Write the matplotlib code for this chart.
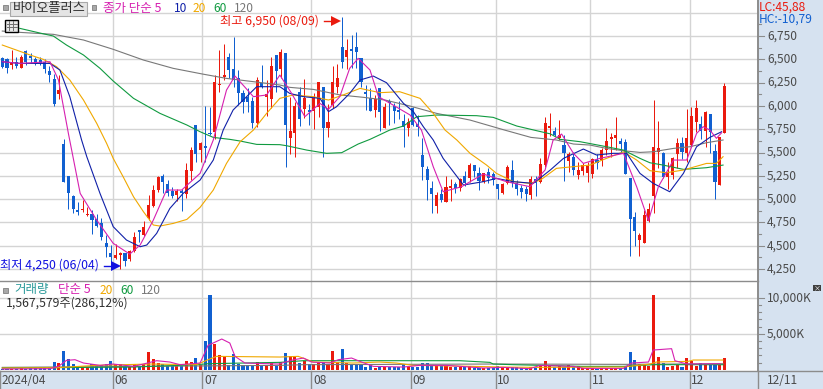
import matplotlib
matplotlib.use("Agg")
import matplotlib.pyplot as plt
from matplotlib.patches import Rectangle

plt.rcParams["font.family"] = ["Noto Sans CJK KR", "DejaVu Sans"]

W, H = 823, 389
STEP = 4.72
X0 = 2.3

opens = [6510, 6499, 6438, 6474, 6410, 6589, 6535, 6499, 6492, 6467, 6374, 6288, 6127,
         5591, 5247, 5033, 4883, 4883, 4825, 4840, 4786, 4747, 4525, 4421, 4367, 4403,
         4417, 4353, 4446, 4668, 4614, 4793, 4925, 5097, 5247, 5158, 5090, 5043, 5083,
         5054, 5305, 5795, 5526, 5569, 5709, 5723, 6224, 6306, 6521, 6396, 6295, 6142,
         6099, 6056, 5820, 6242, 6099, 6074, 6546, 6392, 6571, 5655, 5712, 6152, 5970,
         5956, 5948, 5984, 6199, 5759, 6009, 6199, 6632, 6521, 6607, 6628, 6510, 6149,
         6081, 5956, 6192, 5766, 6052, 5998, 5956, 5838, 5766, 5973, 5802, 5473, 5319,
         5115, 4925, 5054, 4968, 5119, 5162, 5115, 5247, 5222, 5365, 5276, 5187, 5287,
         5265, 5158, 5061, 5169, 5312, 5176, 5119, 5104, 5043, 5212, 5179, 5365, 5766,
         5730, 5652, 5580, 5412, 5455, 5258, 5305, 5283, 5265, 5419, 5419, 5526, 5644,
         5655, 5623, 5616, 5229, 4804, 4561, 4532, 4768, 5036, 5508, 5498, 5240, 5258,
         5483, 5598, 5498, 5580, 5830, 5805, 5734, 5913, 5516, 5151, 5712]
highs = [6521, 6510, 6599, 6528, 6546, 6599, 6564, 6528, 6528, 6499, 6428, 6342, 6331,
         5641, 5247, 5043, 4972, 4990, 4911, 4883, 4836, 4793, 4614, 4507, 4518, 4435,
         4425, 4453, 4650, 4668, 4768, 5043, 5151, 5247, 5269, 5204, 5133, 5104, 5104,
         5383, 5562, 5795, 5616, 5998, 5984, 6331, 6599, 6664, 6564, 6735, 6385, 6170,
         6188, 6099, 6306, 6438, 6278, 6521, 6546, 6607, 6571, 6099, 6045, 6206, 6285,
         6020, 6134, 6256, 6199, 6020, 6428, 6449, 6950, 6714, 6760, 6789, 6510, 6224,
         6188, 6117, 6192, 6027, 6070, 6027, 6052, 5913, 5866, 5984, 5902, 5652, 5355,
         5194, 5076, 5104, 5247, 5212, 5187, 5229, 5305, 5383, 5365, 5348, 5283, 5330,
         5294, 5158, 5169, 5365, 5419, 5204, 5151, 5140, 5247, 5247, 5437, 5884, 5920,
         5777, 5848, 5687, 5508, 5508, 5401, 5390, 5401, 5437, 5483, 5544, 5762, 5705,
         5877, 5652, 5641, 5229, 4865, 4632, 4883, 4954, 6063, 5838, 5508, 5401, 5448,
         5652, 5669, 5963, 5984, 6063, 5891, 5945, 5913, 5591, 5670, 6242]
lows = [6403, 6356, 6392, 6403, 6403, 6438, 6456, 6438, 6438, 6356, 6260, 5998, 6070,
        5187, 4890, 4854, 4829, 4861, 4818, 4625, 4704, 4561, 4382, 4282, 4360, 4250,
        4282, 4332, 4435, 4543, 4603, 4775, 4911, 5079, 5068, 5033, 5008, 4983, 4875,
        5008, 5204, 5401, 5401, 5401, 5690, 5640, 6152, 6278, 6295, 6199, 6009, 5920,
        5938, 5759, 5777, 6188, 5891, 5973, 6152, 6295, 5340, 5483, 5455, 5784, 5866,
        5795, 5748, 5884, 5455, 5669, 5973, 6134, 6403, 6392, 6403, 6403, 6206, 5956,
        5948, 5884, 5734, 5759, 5795, 5813, 5855, 5555, 5677, 5784, 5677, 5204, 4990,
        4854, 4847, 4968, 4968, 4983, 5061, 5090, 5140, 5187, 5240, 5097, 5169, 5169,
        5151, 5004, 5054, 5158, 5126, 5043, 5015, 4983, 5000, 5033, 5169, 5340, 5677,
        5677, 5630, 5197, 5294, 5258, 5215, 5258, 5187, 5222, 5319, 5358, 5473, 5455,
        5526, 5490, 5269, 4389, 4496, 4389, 4525, 4757, 4847, 5330, 5222, 5104, 5215,
        5330, 5426, 5401, 5570, 5723, 5640, 5555, 5490, 4997, 5151, 5712]
closes = [6421, 6403, 6456, 6431, 6528, 6474, 6510, 6449, 6456, 6396, 6331, 6020, 6170,
          5187, 5068, 4890, 4865, 4897, 4840, 4775, 4711, 4589, 4482, 4375, 4396, 4417,
          4335, 4443, 4589, 4646, 4700, 4936, 5097, 5233, 5187, 5068, 5033, 5090, 5061,
          5312, 5526, 5483, 5598, 5548, 5698, 6256, 6231, 6328, 6385, 6278, 6134, 6045,
          6045, 5813, 6278, 6199, 6124, 6428, 6378, 6582, 5795, 5730, 5998, 5855, 6088,
          5938, 6088, 6256, 5759, 5827, 6256, 6295, 6474, 6599, 6592, 6574, 6260, 6127,
          5948, 6077, 5938, 5991, 6034, 5948, 5938, 5777, 5830, 5795, 5777, 5348, 5204,
          5054, 5043, 4990, 5126, 5140, 5119, 5212, 5169, 5365, 5301, 5194, 5276, 5222,
          5204, 5104, 5162, 5340, 5169, 5108, 5076, 5054, 5212, 5176, 5376, 5813, 5788,
          5687, 5687, 5498, 5483, 5312, 5312, 5365, 5355, 5426, 5383, 5526, 5623, 5669,
          5691, 5591, 5269, 4786, 4657, 4614, 4829, 4893, 5562, 5544, 5240, 5276, 5437,
          5598, 5508, 5652, 5891, 5973, 5734, 5931, 5723, 5187, 5662, 6213]
volumes = [90, 90, 140, 140, 190, 140, 190, 190, 190, 230, 320, 1110, 970, 2640, 1530,
           830, 370, 370, 370, 830, 600, 600, 830, 1250, 790, 790, 320, 420, 740, 320,
           790, 2500, 1530, 880, 740, 500, 500, 700, 500, 1250, 1110, 1670, 700, 4030,
           10420, 3610, 2080, 1710, 700, 2220, 830, 600, 600, 600, 1060, 600, 600, 970,
           560, 1060, 2360, 1850, 1760, 970, 1250, 790, 790, 1060, 1060, 790, 2640, 1060,
           2920, 970, 700, 700, 790, 420, 700, 280, 460, 320, 320, 320, 320, 790, 320,
           320, 320, 930, 930, 600, 460, 460, 510, 420, 320, 420, 320, 510, 280, 280,
           280, 280, 280, 560, 320, 320, 420, 320, 280, 280, 420, 190, 510, 1250, 600,
           420, 460, 420, 600, 320, 460, 190, 190, 190, 140, 190, 190, 190, 190, 190,
           460, 2500, 1390, 790, 700, 460, 10420, 1810, 880, 420, 560, 700, 420, 1670,
           1250, 510, 930, 600, 600, 700, 700, 1568]

ma5_x = [0, 3.7, 10.1, 11.9, 14, 16.5, 20, 23.5, 27, 29.2, 32, 34.8, 38, 41.9, 44.7, 47.5,
         49.3, 53.2, 56, 58.8, 61.3, 64.1, 67.3, 69.1, 71.5, 73.6, 75.4, 77.9, 79.7, 82.8,
         86.4, 88.8, 91.3, 93.4, 97.3, 101.9, 106.8, 111.8, 115, 116.7, 118.5, 121, 123.1,
         126.6, 131.6, 134.4, 136.9, 139, 142.2, 145, 147.1, 148.5, 149.9, 151.3, 152.4]
ma5_y = [6474, 6456, 6474, 6278, 5705, 5061, 4775, 4525, 4410, 4507, 4775, 5097, 5097, 5276,
         5634, 6170, 6320, 6099, 6117, 6331, 6134, 5884, 6027, 5963, 6099, 6403, 6510, 6385,
         6099, 6009, 5902, 5741, 5348, 5079, 5133, 5269, 5187, 5133, 5312, 5634, 5698, 5491,
         5383, 5437, 5491, 5133, 4768, 5133, 5419, 5419, 5705, 5777, 5741, 5652, 5712]
ma10_x = [0, 3.7, 10.1, 12.2, 14.3, 16.8, 17.9, 20.7, 23.5, 26.3, 29.2, 30.6, 32.7, 35.5,
          38.3, 41.9, 44.7, 46.8, 48.9, 53.9, 58.8, 60.9, 63.8, 67.3, 69.1, 70.8, 73.6,
          75.8, 78.6, 81.4, 85, 87.1, 89.2, 91.3, 93.4, 97.7, 101.9, 104.7, 108.3, 112.5,
          116.1, 118.9, 123.1, 125.9, 129.4, 132.3, 135.1, 137.9, 141.4, 144.3, 147.1,
          149.9, 152.4]
ma10_y = [6474, 6456, 6456, 6385, 6099, 5634, 5455, 5061, 4704, 4561, 4489, 4507, 4632, 4900,
          5061, 5204, 5419, 5741, 5956, 6206, 6206, 6134, 6099, 6081, 5938, 5991, 6134, 6278,
          6320, 6249, 6027, 5938, 5777, 5634, 5437, 5151, 5187, 5222, 5187, 5169, 5312, 5437,
          5537, 5473, 5491, 5491, 5276, 5169, 5079, 5276, 5562, 5662, 5723]
ma20_x = [0, 3, 5.9, 8.7, 11.5, 14.3, 17.2, 20, 22.1, 23.5, 25.6, 27.8, 29.9, 32, 33.4, 36.2,
          39.1, 41.9, 44.7, 47.5, 50.4, 53.2, 56, 58.8, 61.6, 65.9, 69.1, 72.2, 75.8, 80,
          84.2, 88.5, 91.3, 93.8, 96.3, 99.1, 102.6, 104.7, 108.3, 111.8, 114, 117.4, 121,
          124.5, 128, 131.6, 134.4, 137.2, 140.7, 144.3, 149.2, 151.3, 152.7]
ma20_y = [6653, 6599, 6546, 6499, 6421, 6278, 6063, 5813, 5598, 5437, 5240, 5025, 4865, 4722,
          4711, 4739, 4782, 4911, 5097, 5383, 5616, 5741, 5920, 6081, 6117, 6099, 6063, 6117,
          6188, 6142, 6152, 6081, 5920, 5741, 5634, 5491, 5365, 5276, 5187, 5169, 5204, 5330,
          5348, 5365, 5437, 5508, 5419, 5305, 5283, 5312, 5383, 5383, 5455]
ma60_x = [3.7, 8.3, 10.8, 13.6, 17.2, 20.7, 23.5, 27.8, 33.4, 39.1, 41.9, 44.7, 48.2, 50.4,
          53.9, 58.8, 60.2, 64.5, 68.7, 71.9, 75.4, 77.9, 82.1, 85, 87.8, 92, 100.5, 104,
          109, 113.2, 116.1, 118.2, 122.4, 127.3, 131.6, 135.1, 137.2, 140, 144.3, 149.2,
          152.7]
ma60_y = [6832, 6778, 6750, 6653, 6546, 6403, 6267, 6081, 5920, 5795, 5723, 5662, 5641, 5623,
          5587, 5584, 5573, 5526, 5491, 5498, 5591, 5641, 5741, 5784, 5884, 5902, 5895, 5877,
          5784, 5734, 5700, 5641, 5616, 5569, 5526, 5437, 5390, 5365, 5319, 5337, 5365]
ma120_x = [0, 3.7, 10.8, 17.2, 23.5, 29.9, 36.2, 42.4, 47.5, 53.2, 58.8, 60.9, 65.9, 71.6,
           76.5, 81.1, 86.4, 92, 99.1, 106.4, 112, 116.1, 117.4, 121, 124.5, 128, 131.6,
           135.1, 137.9, 142.2, 145.7, 149.2, 152.7]
ma120_y = [6803, 6789, 6768, 6707, 6607, 6492, 6403, 6342, 6295, 6260, 6224, 6199, 6177, 6117,
           6092, 6063, 5998, 5920, 5848, 5741, 5662, 5641, 5634, 5591, 5580, 5544, 5519, 5501,
           5508, 5544, 5562, 5605, 5634]

vma5_x = [0, 10.1, 11.9, 13.6, 15.4, 17.2, 20.7, 23.5, 27.8, 29.9, 32.7, 35.5, 37.6, 41.9,
          43.6, 46.5, 48.2, 49.3, 51.4, 58.5, 61.8, 63.8, 65.5, 69.4, 71.2, 74, 76.1, 78.6,
          85, 88.5, 94.1, 101.9, 106.1, 111.8, 113.9, 121, 123.1, 131.6, 133.3, 136.9, 137.9,
          141.8, 142.5, 145, 152.1]
vma5_y = [93, 139, 463, 1296, 1389, 926, 602, 787, 463, 787, 1250, 1065, 695, 926, 3380, 4260,
          3704, 1852, 926, 787, 1389, 1620, 1065, 926, 1389, 1620, 1065, 463, 370, 602, 602,
          232, 324, 139, 602, 463, 185, 185, 926, 1065, 2732, 2917, 1250, 787, 833]
vma20_x = [0, 11.5, 20, 31.3, 41.2, 43.6, 45.4, 58.8, 62.7, 65.9, 74.3, 79.9, 83.5, 87, 96.3,
           106.1, 113.2, 131.6, 137.2, 138.6, 145.3, 146.4, 152.7]
vma20_y = [232, 278, 602, 787, 695, 1389, 1852, 1759, 1852, 1065, 926, 1065, 926, 602, 509,
           370, 324, 370, 787, 1065, 1158, 1343, 1343]
vma60_x = [0, 27.8, 41.2, 43.6, 58.8, 63.8, 96.9, 103.3, 104, 108.3, 122.9, 131.6, 137.9, 152.7]
vma60_y = [232, 370, 695, 833, 1019, 1250, 1250, 1019, 787, 695, 463, 463, 695, 695]
vma120_x = [0, 58.8, 63.8, 104, 131.6, 152.7]
vma120_y = [324, 602, 695, 787, 741, 833]

price_ticks = [4250, 4500, 4750, 5000, 5250, 5500, 5750, 6000, 6250, 6500, 6750, 7000]
vol_ticks = [5000, 10000]
vol_labels = ["5,000K", "10,000K"]
month_pos = [23.5, 42.4, 65.5, 86.5, 104.5, 124.6, 145.6]
month_labels = ["06", "07", "08", "09", "10", "11", "12"]

RED = "#ea1a0e"
BLUE = "#1160d0"
PINK = "#d620b0"
NAVY = "#1020a8"
GOLD = "#f0a800"
GREEN = "#109a40"
GRAY = "#787878"
GRID = "#d4d4d4"
PANEL = "#d6e2f0"
AXIS = "#8c8c8c"
LABEL = "#4a4a4a"


def pane(fig, left, top, right, bottom):
    ax = fig.add_axes([left / W, 1 - bottom / H, (right - left) / W, (bottom - top) / H])
    ax.set_xlim((left - X0) / STEP, (right - X0) / STEP)
    ax.set_xticks([])
    ax.set_yticks([])
    for s in ax.spines.values():
        s.set_visible(False)
    return ax


fig = plt.figure(figsize=(W / 100, H / 100), dpi=100, facecolor="white")

# overlay in pixels, for the panels and all the text
bg = fig.add_axes([0, 0, 1, 1], zorder=0)
bg.set_xlim(0, W)
bg.set_ylim(H, 0)
bg.axis("off")
bg.add_patch(Rectangle((758.5, 0), W, H, fc=PANEL, ec="none"))
bg.add_patch(Rectangle((0, 371), W, 18, fc=PANEL, ec="none"))

ax = pane(fig, 0, 0, 758, 281.3)
ax.set_ylim(7000 - (281.3 - 12.7) * 250 / 23.3, 7000 + 12.7 * 250 / 23.3)
ax.patch.set_alpha(0)
vax = pane(fig, 0, 281.3, 758, 370.3)
vax.set_ylim(-84, (369.7 - 281.3) * 5000 / 36)
vax.patch.set_alpha(0)

for a in (ax, vax):
    for m in month_pos:
        a.axvline(m, color=GRID, lw=1.0, zorder=1)
for p in price_ticks:
    ax.axhline(p, color=GRID, lw=1.0, zorder=1)
for v in vol_ticks:
    vax.axhline(v, color=GRID, lw=1.0, zorder=1)

idx = list(range(len(opens)))
colors = [RED if c >= o else BLUE for o, c in zip(opens, closes)]
ax.vlines(idx, lows, highs, colors=colors, lw=0.72, zorder=2)
ax.bar(idx, [abs(c - o) for o, c in zip(opens, closes)], bottom=[min(o, c) for o, c in zip(opens, closes)],
       width=0.66, color=colors, zorder=3, linewidth=0, antialiased=False)

for xs, ys, col in [(ma120_x, ma120_y, GRAY), (ma60_x, ma60_y, GREEN), (ma20_x, ma20_y, GOLD),
                    (ma10_x, ma10_y, NAVY), (ma5_x, ma5_y, PINK)]:
    ax.plot(xs, ys, color=col, lw=0.8, zorder=4)

vax.bar(idx, volumes, width=0.66, color=colors, zorder=2, linewidth=0, antialiased=False)
for xs, ys, col in [(vma120_x, vma120_y, GRAY), (vma60_x, vma60_y, GREEN),
                    (vma20_x, vma20_y, GOLD), (vma5_x, vma5_y, PINK)]:
    vax.plot(xs, ys, color=col, lw=0.8, zorder=4)

# frame lines
top = fig.add_axes([0, 0, 1, 1], zorder=5)
top.set_xlim(0, W)
top.set_ylim(H, 0)
top.axis("off")
top.plot([758.5, 758.5], [0, 371], color=AXIS, lw=1.4)
top.plot([0, 758.5], [281.3, 281.3], color=AXIS, lw=1.0)
top.plot([0, W], [371, 371], color=AXIS, lw=1.0)
for m in month_pos + [(0 - X0) / STEP]:
    px = X0 + m * STEP
    top.plot([px, px], [371, 389], color=AXIS, lw=1.0)
top.plot([758.5, 758.5], [371, 389], color=AXIS, lw=1.0)


def txt(x, y, s, color=LABEL, size=8.6, **kw):
    top.text(x, y, s, color=color, fontsize=size, va="center", ha="left", **kw)


# right scale
price_y = lambda p: 12.7 + (7000 - p) * 23.3 / 250
for p in price_ticks[:-1]:
    y = price_y(p)
    top.plot([758.5, 764], [y, y], color=AXIS, lw=0.8)
    top.plot([758.5, 761], [y - 11.65, y - 11.65], color=AXIS, lw=0.8)
    txt(767, y, f"{p:,}")
for v, lab in zip(vol_ticks, vol_labels):
    y = 369.7 - v * 36 / 5000
    top.plot([758.5, 764], [y, y], color=AXIS, lw=0.8)
    txt(767, y, lab)
    for k in (1, 2, 3, 4):
        top.plot([758.5, 761], [y + k * 7.2, y + k * 7.2], color=AXIS, lw=0.8)
txt(759, 7, "LC:45,88", color=RED)
txt(759, 19, "HC:-10,79", color=BLUE)
top.add_patch(Rectangle((813, 285), 8, 6, fc="#404040", ec="none"))
top.text(817, 288, "×", color="white", fontsize=5, ha="center", va="center")

# bottom dates
txt(1.5, 380, "2024/04")
for m, lab in zip(month_pos, month_labels):
    txt(X0 + m * STEP + 1.5, 380, lab)
txt(767, 380, "12/11")

# price legend
top.add_patch(Rectangle((3.5, 5), 4.5, 4.5, fc="#a8a8a8", ec="#808080", lw=0.6))
top.add_patch(Rectangle((10.5, 1.5), 77, 14, fc="#e4e4e4", ec="#a8a8a8", lw=0.8))
top.text(49, 8.5, "바이오플러스", color="#303030", fontsize=9.5, ha="center", va="center")
top.add_patch(Rectangle((92, 5), 4.5, 4.5, fc="#a8a8a8", ec="#808080", lw=0.6))
txt(103, 8, "종가 단순 5", color=PINK, size=9)
txt(174, 8, "10", color=NAVY)
txt(193, 8, "20", color=GOLD)
txt(213, 8, "60", color=GREEN)
txt(234, 8, "120", color=GRAY)

# table icon
top.add_patch(Rectangle((5.5, 19.5), 13, 12, fc="#e8e8e8", ec="black", lw=1.0))
for gx in (9.5, 13.5):
    top.plot([gx, gx], [21, 30], color="#707070", lw=0.7)
for gy in (23.5, 27):
    top.plot([7, 17], [gy, gy], color="#707070", lw=0.7)

# high / low notes
txt(220, 21, "최고 6,950 (08/09)", color=RED, size=8.8)
top.plot([324, 334], [21, 21], color=RED, lw=1.0)
top.plot([336.5], [21], marker=">", color=RED, markersize=7, markeredgewidth=0)
txt(0, 265, "최저 4,250 (06/04)", color="#1010e0", size=8.8)
top.plot([104, 113], [266, 266], color="#1010e0", lw=1.0)
top.plot([116], [266], marker=">", color="#1010e0", markersize=7, markeredgewidth=0)

# volume legend
top.add_patch(Rectangle((3.5, 288), 4.5, 4.5, fc="#a8a8a8", ec="#808080", lw=0.6))
txt(14, 290, "거래량", color="#2a9a9a", size=9)
txt(58, 290, "단순 5", color=PINK, size=9)
txt(100, 290, "20", color=GOLD)
txt(120, 290, "60", color=GREEN)
txt(141, 290, "120", color=GRAY)
txt(6, 303, "1,567,579주(286,12%)", color="#303030", size=8.8)

fig.savefig("out.png", dpi=100)
